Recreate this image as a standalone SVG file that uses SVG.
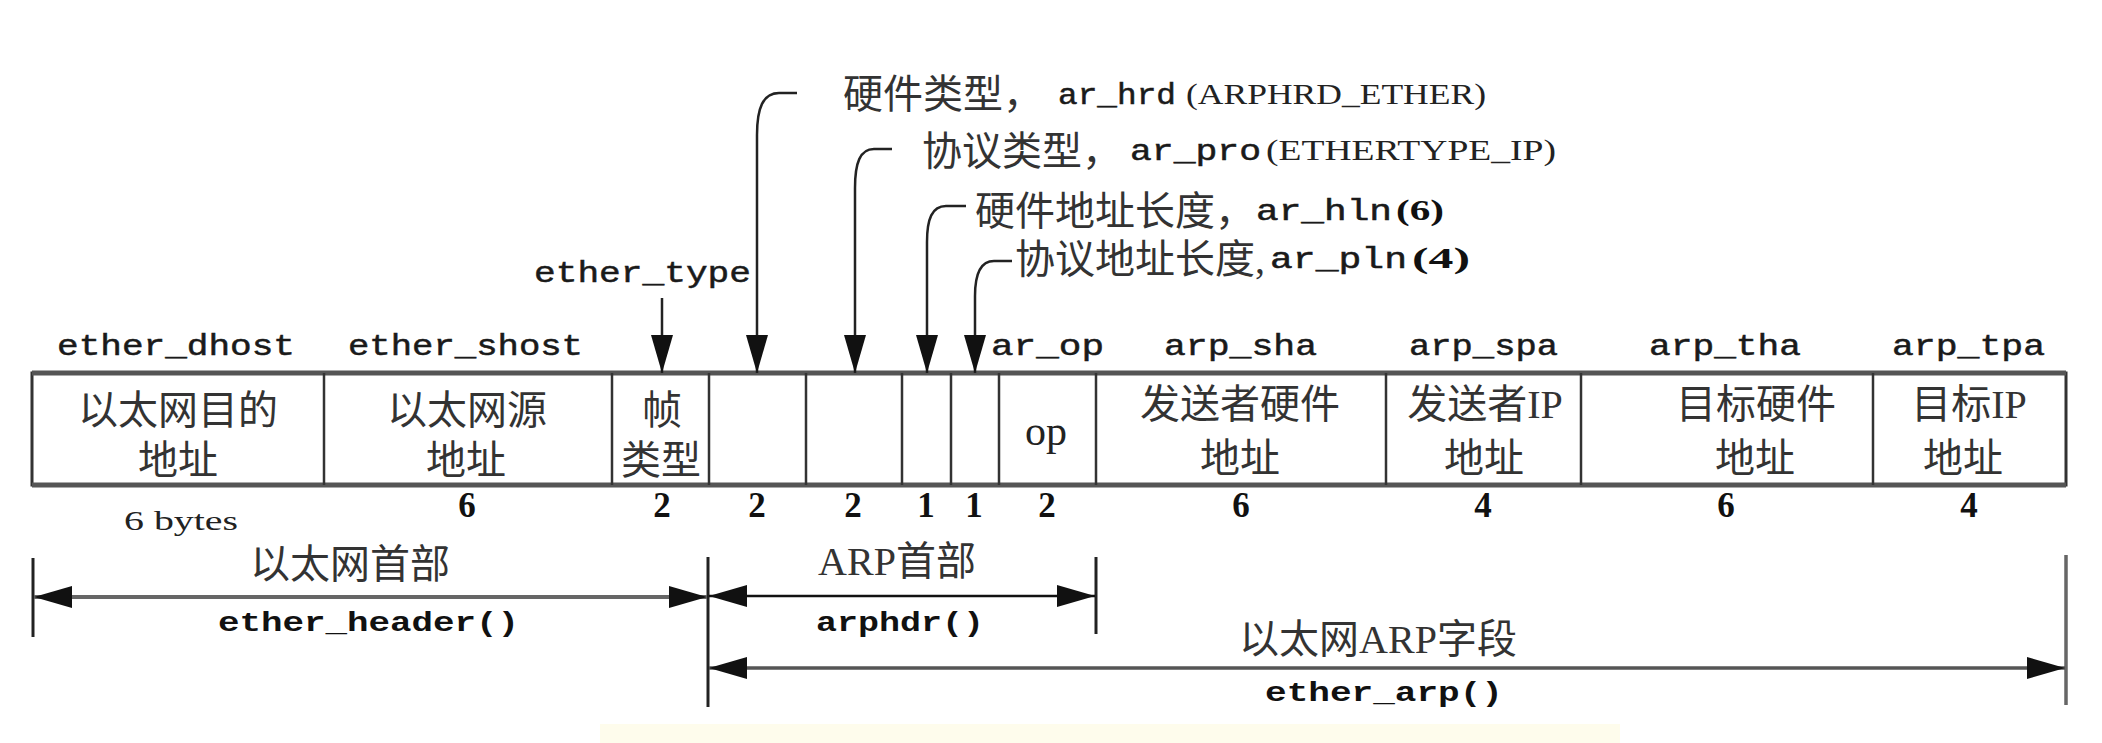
<svg xmlns="http://www.w3.org/2000/svg" width="2102" height="743" viewBox="0 0 2102 743">
<style>
.lbl{font-family:"Liberation Mono","DejaVu Sans Mono",monospace;font-size:30px;fill:#1a1a1a;stroke:#1a1a1a;stroke-width:0.5}
.fn{font-family:"Liberation Mono","DejaVu Sans Mono",monospace;font-size:27px;font-weight:bold;fill:#111}
.mono{font-family:"Liberation Mono","DejaVu Sans Mono",monospace;font-size:29px;fill:#1a1a1a;stroke:#1a1a1a;stroke-width:0.5}
.par{font-family:"Liberation Serif",serif;font-size:29px;fill:#222}
.parb{font-family:"Liberation Serif",serif;font-size:29px;font-weight:bold;fill:#111}
.cj{font-family:"Liberation Serif","Noto Sans CJK SC",serif;font-size:40px;fill:#333}
.cjc{font-family:"Liberation Serif","Noto Sans CJK SC",serif;font-size:40px;fill:#333;text-anchor:middle}
.num{font-family:"Liberation Serif",serif;font-size:35px;font-weight:bold;fill:#111;text-anchor:middle}
.op{font-family:"Liberation Serif",serif;font-size:42px;fill:#222;text-anchor:middle}
.by{font-family:"Liberation Serif",serif;font-size:28px;fill:#222}
.ptr{fill:none;stroke:#222;stroke-width:2.5}
.div{stroke:#333;stroke-width:2.5}
</style>
<defs>
<marker id="ah" markerUnits="userSpaceOnUse" markerWidth="38" markerHeight="22" refX="38" refY="11" orient="auto-start-reverse" viewBox="0 0 38 22">
<path d="M0,0 L38,11 L0,22 z" fill="#111"/>
</marker>
</defs>
<rect width="2102" height="743" fill="#ffffff"/>
<rect x="600" y="724" width="1020" height="19" fill="#fefcec"/>

<g id="field-labels">
<text class="lbl" x="57" y="355" textLength="238" lengthAdjust="spacingAndGlyphs">ether_dhost</text>
<text class="lbl" x="348" y="355" textLength="235" lengthAdjust="spacingAndGlyphs">ether_shost</text>
<text class="lbl" x="534" y="282" textLength="217" lengthAdjust="spacingAndGlyphs">ether_type</text>
<text class="lbl" x="991" y="355" textLength="113" lengthAdjust="spacingAndGlyphs">ar_op</text>
<text class="lbl" x="1164" y="355" textLength="153" lengthAdjust="spacingAndGlyphs">arp_sha</text>
<text class="lbl" x="1409" y="355" textLength="149" lengthAdjust="spacingAndGlyphs">arp_spa</text>
<text class="lbl" x="1649" y="355" textLength="152" lengthAdjust="spacingAndGlyphs">arp_tha</text>
<text class="lbl" x="1892" y="355" textLength="153" lengthAdjust="spacingAndGlyphs">arp_tpa</text>
</g>

<g id="ann-hrd">
<text class="cj" x="843" y="108">硬件类型，</text>
<text class="mono" x="1058" y="104" textLength="118" lengthAdjust="spacingAndGlyphs">ar_hrd</text>
<text class="par" x="1186" y="104" textLength="300" lengthAdjust="spacingAndGlyphs">(ARPHRD_ETHER)</text>
</g>
<g id="ann-pro">
<text class="cj" x="922" y="165">协议类型，</text>
<text class="mono" x="1130" y="160" textLength="131" lengthAdjust="spacingAndGlyphs">ar_pro</text>
<text class="par" x="1266" y="160" textLength="290" lengthAdjust="spacingAndGlyphs">(ETHERTYPE_IP)</text>
</g>
<g id="ann-hln">
<text class="cj" x="975" y="225">硬件地址长度，</text>
<text class="mono" x="1256" y="220" textLength="136" lengthAdjust="spacingAndGlyphs">ar_hln</text>
<text class="parb" x="1396" y="220" textLength="48" lengthAdjust="spacingAndGlyphs">(6)</text>
</g>
<g id="ann-pln">
<text class="cj" x="1015" y="273">协议地址长度,</text>
<text class="mono" x="1270" y="268" textLength="137" lengthAdjust="spacingAndGlyphs">ar_pln</text>
<text class="parb" x="1412" y="268" textLength="58" lengthAdjust="spacingAndGlyphs">(4)</text>
</g>

<g id="frame">
<rect x="32" y="373" width="2034" height="112" fill="none" stroke="#333" stroke-width="3"/>
<line x1="32" y1="373" x2="2066" y2="373" stroke="#555" stroke-width="5"/>
<line x1="32" y1="485" x2="2066" y2="485" stroke="#555" stroke-width="5"/>
<line class="div" x1="324" y1="373" x2="324" y2="485"/>
<line class="div" x1="612" y1="373" x2="612" y2="485"/>
<line class="div" x1="709" y1="373" x2="709" y2="485"/>
<line class="div" x1="806" y1="373" x2="806" y2="485"/>
<line class="div" x1="902" y1="373" x2="902" y2="485"/>
<line class="div" x1="951" y1="373" x2="951" y2="485"/>
<line class="div" x1="999" y1="373" x2="999" y2="485"/>
<line class="div" x1="1096" y1="373" x2="1096" y2="485"/>
<line class="div" x1="1386" y1="373" x2="1386" y2="485"/>
<line class="div" x1="1581" y1="373" x2="1581" y2="485"/>
<line class="div" x1="1873" y1="373" x2="1873" y2="485"/>
</g>

<g id="f-dhost"><text class="cjc" x="178" y="424">以太网目的</text><text class="cjc" x="178" y="474">地址</text><text class="by" x="124" y="530" textLength="114" lengthAdjust="spacingAndGlyphs">6 bytes</text></g>
<g id="f-shost"><text class="cjc" x="467" y="424">以太网源</text><text class="cjc" x="466" y="474">地址</text><text class="num" x="467" y="517">6</text></g>
<g id="f-type"><text class="cjc" x="662" y="424">帧</text><text class="cjc" x="661" y="474">类型</text><text class="num" x="662" y="517">2</text></g>
<g id="f-hrd"><text class="num" x="757" y="517">2</text></g>
<g id="f-pro"><text class="num" x="853" y="517">2</text></g>
<g id="f-hln"><text class="num" x="926" y="517">1</text></g>
<g id="f-pln"><text class="num" x="974" y="517">1</text></g>
<g id="f-op"><text class="op" x="1046" y="445">op</text><text class="num" x="1047" y="517">2</text></g>
<g id="f-sha"><text class="cjc" x="1240" y="418">发送者硬件</text><text class="cjc" x="1240" y="472">地址</text><text class="num" x="1241" y="517">6</text></g>
<g id="f-spa"><text class="cjc" x="1485" y="418">发送者IP</text><text class="cjc" x="1484" y="472">地址</text><text class="num" x="1483" y="517">4</text></g>
<g id="f-tha"><text class="cjc" x="1756" y="418">目标硬件</text><text class="cjc" x="1755" y="472">地址</text><text class="num" x="1726" y="517">6</text></g>
<g id="f-tpa"><text class="cjc" x="1969" y="418">目标IP</text><text class="cjc" x="1963" y="472">地址</text><text class="num" x="1969" y="517">4</text></g>

<g id="spans">
<text class="cjc" x="350" y="578">以太网首部</text>
<text class="fn" x="218" y="631" textLength="301" lengthAdjust="spacingAndGlyphs">ether_header()</text>
<text class="cjc" x="897" y="575">ARP首部</text>
<text class="fn" x="816" y="631" textLength="168" lengthAdjust="spacingAndGlyphs">arphdr()</text>
<text class="cjc" x="1378" y="653">以太网ARP字段</text>
<text class="fn" x="1265" y="701" textLength="238" lengthAdjust="spacingAndGlyphs">ether_arp()</text>
</g>

<g id="connectors">
<path class="ptr" d="M662 298 V373" marker-end="url(#ah)"/>
<path class="ptr" d="M797 93 H779 C763 93 757 108 757 135 V373" marker-end="url(#ah)"/>
<path class="ptr" d="M892 149 H874 C860 149 855 163 855 188 V373" marker-end="url(#ah)"/>
<path class="ptr" d="M966 206 H946 C932 206 927 219 927 242 V373" marker-end="url(#ah)"/>
<path class="ptr" d="M1012 261 H994 C980 261 975 274 975 296 V373" marker-end="url(#ah)"/>
<line x1="33" y1="558" x2="33" y2="637" stroke="#222" stroke-width="3"/>
<line x1="708" y1="557" x2="708" y2="707" stroke="#222" stroke-width="3"/>
<line x1="1096" y1="557" x2="1096" y2="634" stroke="#222" stroke-width="3"/>
<line x1="2066" y1="555" x2="2066" y2="705" stroke="#666" stroke-width="3.5"/>
<path d="M34 597 H707" fill="none" stroke="#666" stroke-width="4" marker-start="url(#ah)" marker-end="url(#ah)"/>
<path d="M709 596 H1095" fill="none" stroke="#111" stroke-width="2.5" marker-start="url(#ah)" marker-end="url(#ah)"/>
<path d="M709 668 H2065" fill="none" stroke="#555" stroke-width="3.5" marker-start="url(#ah)" marker-end="url(#ah)"/>
</g>
</svg>
